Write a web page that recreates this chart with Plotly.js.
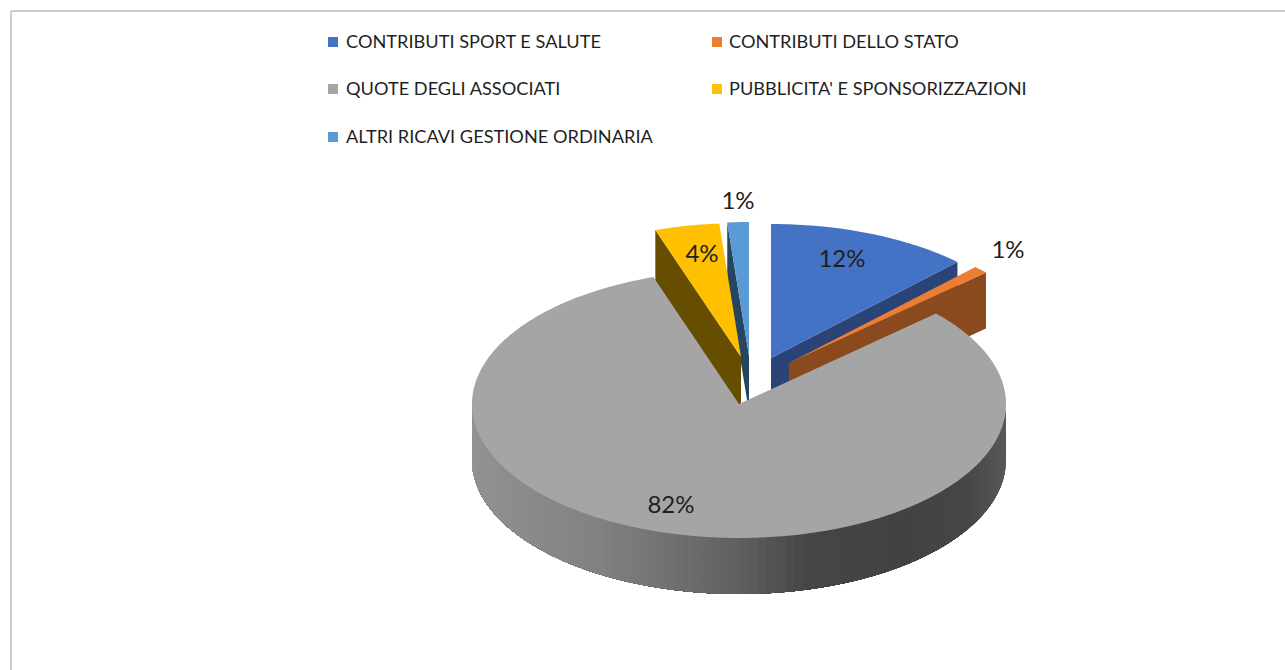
<!DOCTYPE html>
<html>
<head>
<meta charset="utf-8">
<script src="https://cdn.plot.ly/plotly-3.0.1.min.js"></script>
<style>html,body{margin:0;padding:0;background:#fff}#chart{width:1285px;height:670px}</style>
</head>
<body>
<div id="chart"></div>
<script>
// Data
const categories = ["CONTRIBUTI SPORT E SALUTE", "CONTRIBUTI DELLO STATO", "QUOTE DEGLI ASSOCIATI", "PUBBLICITA' E SPONSORIZZAZIONI", "ALTRI RICAVI GESTIONE ORDINARIA"];
const values = [12.3, 0.9, 81.6, 3.9, 1.3];

// Style
const topColors = ["#4472c4", "#ed7d31", "#a5a5a5", "#ffc000", "#5b9bd5"];
const faceColors = ["#2a4478", "#8a4a1e", null, "#664d00", "#264561"];
const faceSide = ["end", "end", null, "start", "start"];
const apexX = [771, 789, 739, 741, 749];
const apexY = [358, 363, 404, 357, 356];
const labelX = [842, 1008, 671, 702, 738];
const labelY = [261, 252, 507, 256, 203];
const legendMarkerX = [333, 717, 333, 717, 333];
const legendTextX = [346, 729, 346, 729, 346];
const legendY = [43, 43, 90, 90, 138];
const RX = 267, RY = 134, DEPTH = 56;
const FONT = "Lato, Carlito, 'Open Sans', sans-serif";
const TEXT = "#1f1f1f";

const total = values.reduce((a, b) => a + b, 0);
let acc = 0;
const slices = values.map((v, i) => {
  const a0 = acc / total * 2 * Math.PI;
  acc += v;
  return { i, a0, a1: acc / total * 2 * Math.PI };
});
const px = (i, a) => apexX[i] + RX * Math.sin(a);
const py = (i, a) => apexY[i] - RY * Math.cos(a);

function polyTrace(xs, ys, color, name) {
  return { type: "scatter", mode: "none", x: xs, y: ys, fill: "toself", fillcolor: color,
           hoverinfo: name ? "name" : "skip", name: name || "", showlegend: false };
}
function topTrace(s) {
  const xs = [apexX[s.i]], ys = [apexY[s.i]];
  const n = Math.max(4, Math.ceil((s.a1 - s.a0) * 60));
  for (let k = 0; k <= n; k++) {
    const a = s.a0 + (s.a1 - s.a0) * k / n;
    xs.push(px(s.i, a)); ys.push(py(s.i, a));
  }
  xs.push(apexX[s.i]); ys.push(apexY[s.i]);
  return polyTrace(xs, ys, topColors[s.i], categories[s.i]);
}
function faceTrace(s) {
  const a = faceSide[s.i] === "end" ? s.a1 : s.a0;
  const ax = apexX[s.i], ay = apexY[s.i], tx = px(s.i, a), ty = py(s.i, a);
  return polyTrace([ax, tx, tx, ax, ax], [ay, ty, ty + DEPTH, ay + DEPTH, ay], faceColors[s.i]);
}
// shade of the grey outer wall, following the horizontal position on the rim
const shadeStops = [[-1, 0x92], [-0.5, 0x80], [0, 0x60], [0.25, 0x46], [0.6, 0x42], [0.85, 0x46], [1, 0x58]];
function wallShade(u) {
  for (let k = 1; k < shadeStops.length; k++) {
    if (u <= shadeStops[k][0]) {
      const [u0, c0] = shadeStops[k - 1], [u1, c1] = shadeStops[k];
      const c = Math.round(c0 + (c1 - c0) * (u - u0) / (u1 - u0));
      return "rgb(" + c + "," + c + "," + c + ")";
    }
  }
  return "rgb(88,88,88)";
}
function wallTraces(s) {
  // each band runs on to the far end of the rim and the next band paints over it,
  // so no seam can show between two neighbouring shades
  const out = [];
  const lo = Math.max(s.a0, Math.PI / 2), hi = Math.min(s.a1, 3 * Math.PI / 2);
  const n = 90, sub = 60;
  for (let k = 0; k < n; k++) {
    const a = lo + (hi - lo) * k / n, b = lo + (hi - lo) * (k + 1) / n;
    const top = [], bot = [];
    for (let j = 0; j <= sub; j++) {
      const t = a + (hi - a) * j / sub;
      top.push([px(s.i, t), py(s.i, t)]);
      bot.unshift([px(s.i, t), py(s.i, t) + DEPTH]);
    }
    const pts = top.concat(bot);
    pts.push(top[0]);
    out.push(polyTrace(pts.map(p => p[0]), pts.map(p => p[1]), wallShade(Math.sin((a + b) / 2))));
  }
  return out;
}

const [blue, orange, grey, yellow, light] = slices;
const traces = [
  faceTrace(light), topTrace(light),
  faceTrace(blue), topTrace(blue),
  faceTrace(orange), topTrace(orange),
  faceTrace(yellow), topTrace(yellow),
  ...wallTraces(grey), topTrace(grey),
  { type: "scatter", mode: "text", x: labelX, y: labelY,
    text: values.map(v => Math.round(v) + "%"), textposition: "middle center",
    textfont: { family: FONT, size: 24, color: TEXT }, hoverinfo: "skip", showlegend: false },
  { type: "scatter", mode: "markers", x: legendMarkerX, y: legendY.map(y => y - 1),
    marker: { symbol: "square", size: 10, color: topColors, line: { width: 0 } },
    hoverinfo: "skip", showlegend: false },
  { type: "scatter", mode: "text", x: legendTextX, y: legendY, text: categories,
    textposition: "middle right", textfont: { family: FONT, size: 18.2, color: TEXT },
    hoverinfo: "skip", showlegend: false }
];

const layout = {
  width: 1285, height: 670,
  margin: { l: 0, r: 0, t: 0, b: 0 },
  paper_bgcolor: "#ffffff", plot_bgcolor: "#ffffff",
  showlegend: false,
  xaxis: { range: [0, 1285], visible: false, fixedrange: true },
  yaxis: { range: [670, 0], visible: false, fixedrange: true },
  shapes: [
    { type: "line", xref: "x", yref: "y", x0: 11, x1: 1285, y0: 11, y1: 11, line: { color: "#9a9a9a", width: 1 } },
    { type: "line", xref: "x", yref: "y", x0: 11, x1: 11, y0: 11, y1: 670, line: { color: "#9a9a9a", width: 1 } }
  ]
};
Plotly.newPlot("chart", traces, layout, { displayModeBar: false, responsive: false });
</script>
</body>
</html>
